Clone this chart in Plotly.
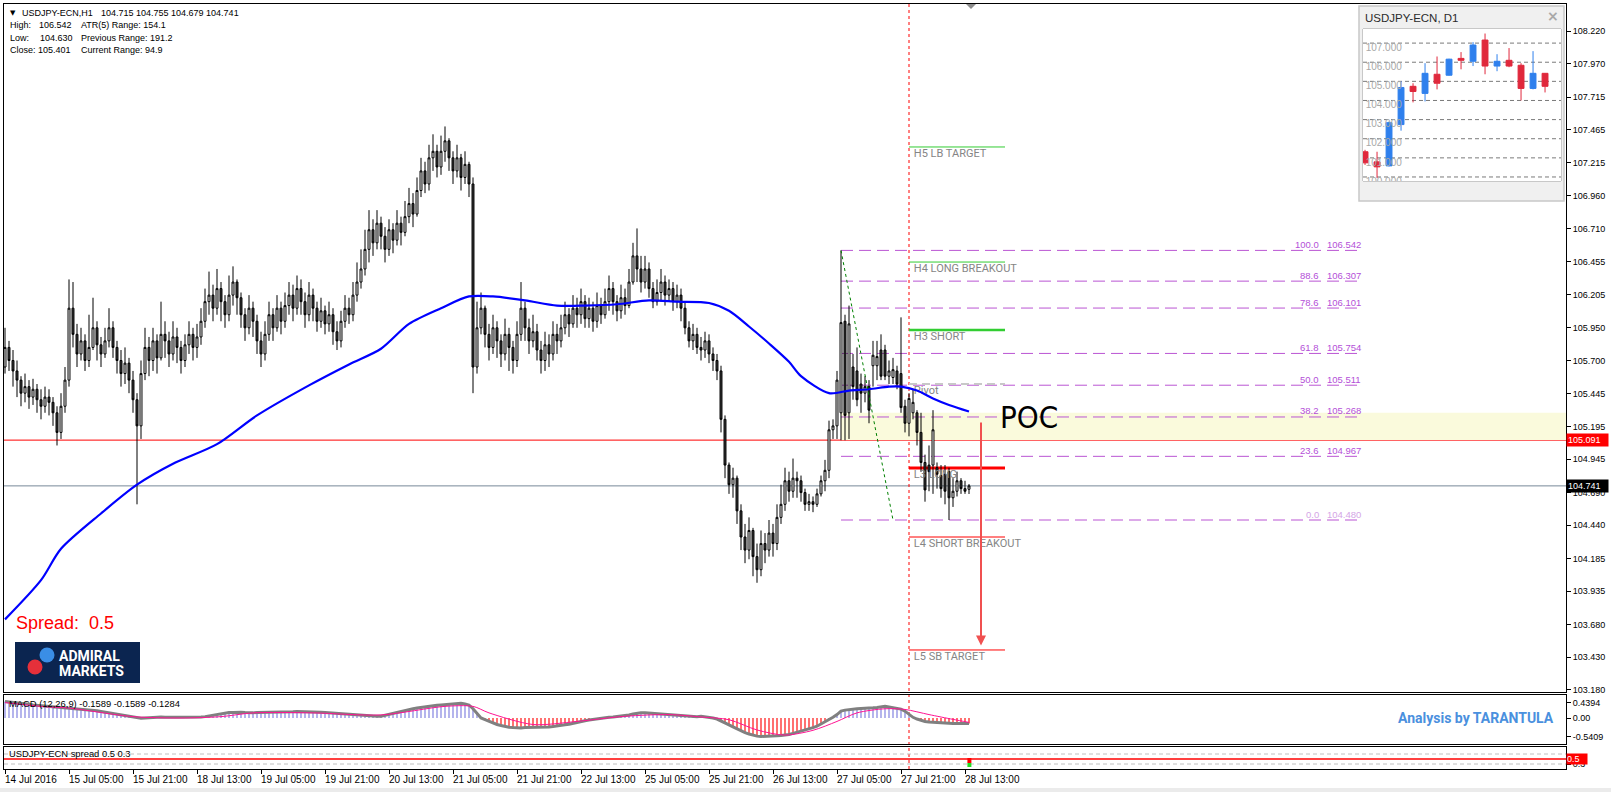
import plotly.graph_objects as go

# ---------------- data ----------------
time_labels = ["14 Jul 2016", "15 Jul 05:00", "15 Jul 21:00", "18 Jul 13:00", "19 Jul 05:00",
               "19 Jul 21:00", "20 Jul 13:00", "21 Jul 05:00", "21 Jul 21:00", "22 Jul 13:00",
               "25 Jul 05:00", "25 Jul 21:00", "26 Jul 13:00", "27 Jul 05:00", "27 Jul 21:00",
               "28 Jul 13:00"]
label_bars = [0, 16, 32, 48, 64, 80, 96, 112, 128, 144, 160, 176, 192, 208, 224, 240]

price_ticks = [108.220, 107.970, 107.715, 107.465, 107.215, 106.960, 106.710, 106.455, 106.205,
               105.950, 105.700, 105.445, 105.195, 104.945, 104.690, 104.440, 104.185, 103.935,
               103.680, 103.430, 103.180]

closes = [105.80, 105.70, 105.62, 105.55, 105.45, 105.50, 105.42, 105.48, 105.40, 105.35, 105.42, 105.38, 105.30, 105.15, 105.35, 105.55,
          106.10, 105.90, 105.75, 105.85, 105.70, 105.80, 105.95, 105.82, 105.75, 105.85, 105.95, 105.80, 105.70, 105.60, 105.68, 105.55,
          105.40, 105.20, 105.60, 105.80, 105.70, 105.85, 105.72, 105.90, 105.85, 105.75, 105.88, 105.80, 105.70, 105.82, 105.90, 105.80,
          105.88, 106.00, 106.15, 106.20, 106.10, 106.25, 106.15, 106.05, 106.20, 106.30, 106.18, 106.05, 105.95, 106.10, 106.00, 105.85,
          105.75, 105.90, 106.05, 105.95, 106.10, 106.00, 106.12, 106.20, 106.10, 106.25, 106.15, 106.05, 106.20, 106.10, 106.00, 106.08,
          105.98, 106.05, 105.92, 105.85, 106.00, 106.10, 106.05, 106.20, 106.30, 106.40, 106.55, 106.70, 106.60, 106.75, 106.65, 106.55,
          106.70, 106.62, 106.75, 106.68, 106.80, 106.90, 106.82, 107.00, 107.15, 107.05, 107.25, 107.30, 107.18, 107.30, 107.38, 107.25,
          107.15, 107.25, 107.10, 107.20, 107.05, 105.65, 105.95, 106.10, 105.90, 105.80, 105.95, 105.85, 105.75, 105.90, 105.80, 105.70,
          105.90, 106.10, 105.95, 105.85, 105.92, 105.78, 105.70, 105.82, 105.75, 105.90, 105.85, 105.95, 106.05, 105.98, 106.10, 106.05,
          106.15, 106.02, 106.10, 106.00, 106.12, 106.05, 106.15, 106.25, 106.15, 106.08, 106.18, 106.12, 106.30, 106.50, 106.40, 106.30,
          106.40, 106.25, 106.15, 106.22, 106.30, 106.20, 106.25, 106.15, 106.20, 106.10, 105.95, 105.85, 105.90, 105.80, 105.78, 105.85,
          105.75, 105.70, 105.62, 105.25, 104.90, 104.75, 104.80, 104.55, 104.35, 104.25, 104.40, 104.20, 104.10, 104.30, 104.25, 104.38,
          104.30, 104.50, 104.60, 104.78, 104.70, 104.80, 104.78, 104.69, 104.60, 104.62, 104.60, 104.68, 104.78, 104.86, 105.17, 105.20,
          105.55, 105.99, 105.28, 105.98, 105.50, 105.40, 105.45, 105.50, 105.32, 105.74, 105.73, 105.58, 105.58, 105.62, 105.63, 105.52,
          105.34, 105.22, 105.41, 105.38, 105.15, 104.92, 104.71, 104.85, 105.17, 104.83, 104.72, 104.70, 104.65, 104.70, 104.78, 104.72,
          104.70, 104.741]

highs = [105.95, 105.85, 105.78, 105.70, 105.58, 105.60, 105.55, 105.56, 105.52, 105.48, 105.50, 105.48, 105.42, 105.35, 105.45, 105.65,
         106.32, 106.30, 105.98, 105.95, 105.90, 106.05, 106.18, 106.00, 105.88, 105.95, 106.10, 106.00, 105.85, 105.78, 105.80, 105.72,
         105.62, 105.45, 105.70, 105.95, 105.88, 105.95, 105.90, 106.15, 106.00, 105.92, 106.00, 105.95, 105.85, 105.90, 106.00, 105.95,
         105.98, 106.10, 106.25, 106.38, 106.28, 106.40, 106.30, 106.20, 106.35, 106.42, 106.32, 106.22, 106.10, 106.20, 106.15, 106.05,
         105.92, 106.00, 106.15, 106.10, 106.20, 106.15, 106.22, 106.30, 106.28, 106.35, 106.32, 106.22, 106.30, 106.25, 106.15, 106.18,
         106.12, 106.15, 106.10, 106.00, 106.08, 106.20, 106.18, 106.30, 106.45, 106.55, 106.70, 106.85, 106.78, 106.85, 106.80, 106.72,
         106.78, 106.75, 106.85, 106.80, 106.92, 107.02, 106.98, 107.10, 107.25, 107.22, 107.35, 107.43, 107.35, 107.42, 107.49, 107.40,
         107.30, 107.35, 107.28, 107.30, 107.22, 107.10, 106.15, 106.22, 106.12, 105.98, 106.05, 106.00, 105.90, 106.02, 105.95, 105.85,
         106.00, 106.30, 106.15, 106.02, 106.05, 105.98, 105.85, 105.92, 105.90, 106.00, 105.98, 106.05, 106.15, 106.10, 106.20, 106.18,
         106.25, 106.20, 106.18, 106.15, 106.22, 106.18, 106.25, 106.35, 106.30, 106.20, 106.28, 106.25, 106.40, 106.60, 106.71, 106.50,
         106.50, 106.45, 106.30, 106.32, 106.40, 106.35, 106.32, 106.30, 106.28, 106.25, 106.15, 106.00, 105.98, 105.95, 105.88, 105.92,
         105.90, 105.80, 105.75, 105.66, 105.28, 104.92, 104.88, 104.82, 104.60, 104.45, 104.50, 104.42, 104.30, 104.40, 104.38, 104.48,
         104.45, 104.60, 104.75, 104.88, 104.85, 104.95, 104.85, 104.82, 104.72, 104.68, 104.66, 104.72, 104.82, 104.94, 105.24, 105.25,
         105.62, 106.54, 106.05, 106.12, 105.75, 105.80, 105.60, 105.58, 105.55, 105.85, 105.85, 105.90, 105.82, 105.70, 105.72, 105.66,
         106.03, 105.40, 105.45, 105.48, 105.32, 105.30, 104.98, 105.05, 105.32, 104.92, 104.90, 104.90, 104.88, 104.80, 104.85, 104.80,
         104.78, 104.755]

lows = [105.60, 105.62, 105.50, 105.42, 105.35, 105.38, 105.33, 105.36, 105.30, 105.25, 105.30, 105.28, 105.20, 105.05, 105.10, 105.30,
        105.50, 105.80, 105.65, 105.70, 105.62, 105.65, 105.78, 105.70, 105.65, 105.72, 105.80, 105.72, 105.60, 105.50, 105.52, 105.45,
        105.30, 104.60, 105.10, 105.55, 105.58, 105.62, 105.60, 105.70, 105.72, 105.65, 105.70, 105.68, 105.60, 105.65, 105.75, 105.70,
        105.72, 105.82, 105.95, 106.05, 106.00, 106.05, 106.00, 105.95, 106.00, 106.12, 106.05, 105.95, 105.85, 105.90, 105.88, 105.75,
        105.65, 105.70, 105.85, 105.85, 105.92, 105.90, 105.95, 106.05, 106.00, 106.05, 106.05, 105.95, 106.00, 106.00, 105.92, 105.95,
        105.90, 105.92, 105.82, 105.78, 105.80, 105.95, 105.98, 106.00, 106.15, 106.25, 106.35, 106.45, 106.50, 106.55, 106.55, 106.45,
        106.50, 106.52, 106.58, 106.58, 106.65, 106.75, 106.72, 106.80, 106.95, 106.98, 107.00, 107.15, 107.10, 107.12, 107.22, 107.15,
        107.05, 107.10, 107.00, 107.05, 106.95, 105.45, 105.60, 105.90, 105.80, 105.70, 105.75, 105.72, 105.65, 105.70, 105.62, 105.60,
        105.65, 105.85, 105.85, 105.75, 105.80, 105.70, 105.60, 105.62, 105.65, 105.70, 105.75, 105.80, 105.90, 105.88, 105.95, 105.95,
        105.98, 105.95, 105.95, 105.92, 105.95, 105.98, 106.02, 106.08, 106.05, 106.00, 106.02, 106.05, 106.10, 106.28, 106.30, 106.22,
        106.25, 106.18, 106.10, 106.12, 106.15, 106.12, 106.15, 106.08, 106.10, 106.00, 105.90, 105.80, 105.78, 105.75, 105.70, 105.72,
        105.68, 105.62, 105.55, 105.15, 104.80, 104.68, 104.65, 104.45, 104.25, 104.15, 104.18, 104.05, 104.00, 104.05, 104.15, 104.20,
        104.20, 104.25, 104.45, 104.55, 104.62, 104.65, 104.65, 104.62, 104.55, 104.55, 104.54, 104.58, 104.66, 104.70, 104.80, 105.10,
        105.10, 105.09, 105.09, 105.10, 105.40, 105.35, 105.30, 105.38, 105.22, 105.50, 105.55, 105.55, 105.55, 105.52, 105.52, 105.48,
        105.30, 105.15, 105.12, 105.25, 105.05, 104.85, 104.62, 104.70, 104.68, 104.72, 104.65, 104.60, 104.48, 104.58, 104.66, 104.68,
        104.68, 104.679]

first_open = 105.65
opens_tail = [105.20, 105.30, 106.00, 105.30, 105.65, 105.62, 105.52, 105.45, 105.50, 105.66, 105.66, 105.78, 105.78, 105.58, 105.57, 105.62,
              105.60, 105.35, 105.22, 105.30, 105.30, 105.15, 104.92, 104.90, 104.90, 104.88, 104.82, 104.83, 104.85, 104.65, 104.70, 104.78,
              104.72, 104.715]
opens = [first_open] + closes[:207] + opens_tail
bars = list(range(len(closes)))

ma_bars = [0, 9, 14, 24, 33, 42, 53, 63, 76, 86, 94, 101, 109, 116, 122, 130, 138, 145, 153, 161,
           168, 176, 181, 186, 191, 196, 199, 206, 211, 216, 221, 224, 228, 232, 236, 241]
ma_vals = [103.72, 104.02, 104.26, 104.53, 104.75, 104.91, 105.06, 105.28, 105.51, 105.67, 105.79, 105.98,
           106.10, 106.19, 106.19, 106.16, 106.12, 106.12, 106.13, 106.16, 106.15, 106.14, 106.08, 105.96,
           105.83, 105.69, 105.58, 105.45, 105.47, 105.48, 105.50, 105.50, 105.47, 105.41, 105.36, 105.31]

macd_main = [0.48, 0.47, 0.46, 0.45, 0.43, 0.42, 0.40, 0.38, 0.37, 0.35,
             0.34, 0.33, 0.32, 0.31, 0.30, 0.29, 0.30, 0.29, 0.27, 0.26,
             0.25, 0.24, 0.23, 0.21, 0.19, 0.17, 0.15, 0.13, 0.11, 0.09,
             0.07, 0.05, 0.03, 0.00, -0.01, 0.00, 0.01, 0.02, 0.02, 0.03,
             0.02, 0.02, 0.03, 0.02, 0.01, 0.01, 0.02, 0.02, 0.02, 0.03,
             0.04, 0.06, 0.08, 0.11, 0.13, 0.15, 0.16, 0.16, 0.17, 0.17,
             0.16, 0.15, 0.15, 0.16, 0.16, 0.17, 0.17, 0.18, 0.18, 0.18,
             0.17, 0.17, 0.18, 0.19, 0.19, 0.19, 0.19, 0.19, 0.18, 0.17,
             0.16, 0.15, 0.14, 0.13, 0.12, 0.11, 0.10, 0.10, 0.10, 0.09,
             0.08, 0.07, 0.06, 0.05, 0.05, 0.08, 0.11, 0.14, 0.17, 0.20,
             0.22, 0.25, 0.27, 0.29, 0.31, 0.33, 0.35, 0.36, 0.37, 0.38,
             0.39, 0.41, 0.43, 0.44, 0.43, 0.41, 0.38, 0.27, 0.12, 0.00,
             -0.05, -0.10, -0.15, -0.19, -0.22, -0.25, -0.27, -0.28, -0.29, -0.29,
             -0.28, -0.28, -0.27, -0.27, -0.26, -0.26, -0.26, -0.25, -0.24, -0.22,
             -0.20, -0.18, -0.15, -0.12, -0.10, -0.08, -0.06, -0.04, -0.02, 0.00,
             0.01, 0.02, 0.03, 0.04, 0.05, 0.07, 0.09, 0.12, 0.14, 0.15,
             0.15, 0.14, 0.13, 0.12, 0.12, 0.11, 0.10, 0.09, 0.08, 0.07,
             0.06, 0.05, 0.05, 0.04, 0.05, 0.04, 0.02, 0.00, -0.03, -0.08,
             -0.14, -0.20, -0.26, -0.32, -0.38, -0.43, -0.47, -0.51, -0.53, -0.54,
             -0.54, -0.54, -0.53, -0.52, -0.51, -0.50, -0.48, -0.45, -0.42, -0.39,
             -0.36, -0.32, -0.28, -0.24, -0.18, -0.12, -0.05, 0.02, 0.10, 0.20,
             0.23, 0.25, 0.26, 0.27, 0.28, 0.28, 0.29, 0.30, 0.31, 0.33,
             0.34, 0.32, 0.30, 0.28, 0.26, 0.20, 0.10, 0.02, -0.03, -0.07,
             -0.10, -0.12, -0.13, -0.14, -0.15, -0.15, -0.16, -0.16, -0.16, -0.16,
             -0.16, -0.1589]
signal_bars = [0, 10, 16, 32, 44, 54, 62, 77, 94, 110, 117, 121, 132, 143, 155, 166, 174, 181,
               188, 195, 202, 208, 213, 220, 225, 231, 237, 241]
signal_vals = [0.45, 0.33, 0.29, 0.04, 0.00, 0.04, 0.15, 0.15, 0.09, 0.34, 0.34, 0.15, -0.19, -0.10,
               0.05, 0.10, 0.03, -0.05, -0.35, -0.50, -0.36, -0.10, 0.15, 0.27, 0.25, 0.10, -0.04, -0.1284]

fib_pcts = ["100.0", "88.6", "78.6", "61.8", "50.0", "38.2", "23.6", "0.0"]
fib_levels = [106.542, 106.307, 106.101, 105.754, 105.511, 105.268, 104.967, 104.480]
fib_start_bar, fib_end_bar = 209, 338.25

pivot_names = ["H5 LB TARGET", "H4 LONG BREAKOUT", "H3 SHORT", "Pivot", "L3 LONG", "L4 SHORT BREAKOUT", "L5 SB TARGET"]
pivot_levels = [107.333, 106.453, 105.933, 105.520, 104.878, 104.350, 103.486]
pivot_start_bar, pivot_end_bar = 226, 250

poc_low, poc_high, poc_start_bar = 105.091, 105.300, 209
red_level = 105.091
last_price = 104.741
session_bar = 226
trend_bars = [209, 222]
trend_vals = [106.542, 104.480]
arrow_bar, arrow_from, arrow_to = 244, 105.237, 103.52

# D1 inset
d1_open = [101.32, 100.79, 100.58, 102.74, 104.74, 104.37, 105.37, 105.32, 106.20, 106.05, 107.16, 105.80, 106.10, 105.84, 104.63, 105.42]
d1_high = [101.42, 101.32, 102.90, 105.00, 104.90, 105.95, 106.30, 106.18, 106.53, 107.05, 107.50, 106.42, 106.74, 105.95, 106.58, 105.42]
d1_low = [100.63, 99.95, 100.55, 102.42, 103.90, 103.95, 104.58, 105.30, 105.63, 105.80, 105.37, 105.53, 105.74, 104.00, 104.58, 104.42]
d1_close = [100.74, 100.53, 102.84, 104.68, 104.47, 105.42, 104.90, 106.16, 106.10, 106.90, 105.80, 106.05, 105.80, 104.63, 105.42, 104.74]
d1_ticks = [107, 106, 105, 104, 103, 102, 101, 100]
d1_tick_text = ["107.000", "106.000", "105.000", "104.000", "103.000", "102.000", "101.000", "100.000"]

# ---------------- geometry helpers ----------------
W, H = 1611, 792
ML, MR, MT, MB = 4, 45, 4, 23
PW, PH = W - ML - MR, H - MT - MB


def X(p):
    return (p - ML) / PW


def Y(p):
    return (H - MB - p) / PH


FONT = "Liberation Sans, Arial, sans-serif"
ROBOTO = "Roboto, Liberation Sans, sans-serif"

fig = go.Figure()

# pivot labels (below candles)
fig.add_trace(go.Scatter(x=[pivot_start_bar + 1.2] * len(pivot_names), y=[v - 0.054 for v in pivot_levels],
                         text=pivot_names, mode="text", textposition="middle right",
                         textfont=dict(family=ROBOTO, size=11, color="#858585"),
                         hoverinfo="skip", xaxis="x", yaxis="y"))

fig.add_trace(go.Candlestick(x=bars, open=opens, high=highs, low=lows, close=closes,
                             increasing=dict(line=dict(color="black", width=1), fillcolor="white"),
                             decreasing=dict(line=dict(color="black", width=1), fillcolor="#3a3a3a"),
                             whiskerwidth=0, xaxis="x", yaxis="y", hoverinfo="skip"))

fig.add_trace(go.Scatter(x=ma_bars, y=ma_vals, mode="lines", line=dict(color="#0000FF", width=2.2, shape="spline", smoothing=0.8),
                         xaxis="x", yaxis="y", hoverinfo="skip"))

fig.add_trace(go.Scatter(x=trend_bars, y=trend_vals, mode="lines", line=dict(color="#008000", width=1, dash="dot"),
                         xaxis="x", yaxis="y", hoverinfo="skip"))

# MACD
fig.add_trace(go.Bar(x=bars, y=macd_main, width=0.28,
                     marker=dict(color=["#7A7ADE" if v >= 0 else "#FF0000" for v in macd_main], line=dict(width=0)),
                     xaxis="x2", yaxis="y2", hoverinfo="skip"))
fig.add_trace(go.Scatter(x=bars, y=macd_main, mode="lines", line=dict(color="#808080", width=3),
                         xaxis="x2", yaxis="y2", hoverinfo="skip"))
fig.add_trace(go.Scatter(x=signal_bars, y=signal_vals, mode="lines",
                         line=dict(color="#FF1493", width=1, shape="spline", smoothing=0.8),
                         xaxis="x2", yaxis="y2", hoverinfo="skip"))

# spread panel (invisible trace to create axes)
fig.add_trace(go.Scatter(x=[0], y=[0.5], mode="markers", marker=dict(size=1, color="rgba(0,0,0,0)"),
                         xaxis="x3", yaxis="y3", hoverinfo="skip"))

# D1 inset
fig.add_trace(go.Scatter(x=[0.05] * len(d1_ticks), y=[v - 0.27 for v in d1_ticks], text=d1_tick_text,
                         mode="text", textposition="middle right",
                         textfont=dict(family=FONT, size=10, color="#A8A8A8"),
                         xaxis="x4", yaxis="y4", hoverinfo="skip"))
fig.add_trace(go.Candlestick(x=list(range(len(d1_open))), open=d1_open, high=d1_high, low=d1_low, close=d1_close,
                             increasing=dict(line=dict(color="#2F80ED", width=1), fillcolor="#2F80ED"),
                             decreasing=dict(line=dict(color="#E0283C", width=1), fillcolor="#E0283C"),
                             whiskerwidth=0, xaxis="x4", yaxis="y4", hoverinfo="skip"))

# ---------------- shapes ----------------
shapes = []
# inset frame
shapes.append(dict(type="rect", xref="paper", yref="paper", x0=X(1359), x1=X(1564), y0=Y(201), y1=Y(6),
                   fillcolor="#F0F0F0", line=dict(color="#C8C8C8", width=1.5), layer="below"))
shapes.append(dict(type="rect", xref="paper", yref="paper", x0=X(1363), x1=X(1561), y0=Y(181), y1=Y(29),
                   fillcolor="white", line=dict(color="#A0A0A0", width=1), layer="below"))
for v in d1_ticks:
    shapes.append(dict(type="line", xref="x4", yref="y4", x0=-0.17, x1=16.33, y0=v, y1=v,
                       line=dict(color="#7A7A7A", width=1, dash="4px,3px"), layer="below"))
for k in [2, 7, 12]:
    shapes.append(dict(type="line", xref="x4", yref="paper", x0=k, x1=k, y0=Y(181), y1=Y(29),
                       line=dict(color="#7A7A7A", width=1, dash="4px,3px"), layer="below"))

# POC zone
shapes.append(dict(type="rect", xref="x", yref="y", x0=poc_start_bar, x1=390.25, y0=poc_low, y1=poc_high,
                   fillcolor="#FAFADC", line=dict(width=0), layer="below"))
# fib lines
for lv in fib_levels:
    shapes.append(dict(type="line", xref="x", yref="y", x0=fib_start_bar, x1=fib_end_bar, y0=lv, y1=lv,
                       line=dict(color="#BA55D3", width=1, dash="12px,6px"), layer="below"))
# horizontal levels
shapes.append(dict(type="line", xref="x domain", yref="y", x0=0, x1=1, y0=red_level, y1=red_level,
                   line=dict(color="#FF0000", width=1), layer="below"))
shapes.append(dict(type="line", xref="x domain", yref="y", x0=0, x1=1, y0=last_price, y1=last_price,
                   line=dict(color="#778899", width=1), layer="below"))
# pivot lines
pivot_style = [("#32CD32", 1, "solid"), ("#32CD32", 1, "solid"), ("#32CD32", 2.5, "solid"),
               ("#C8C8C8", 2, "8px,5px"), ("#FF0000", 3, "solid"), ("#FF0000", 1, "solid"), ("#FF0000", 1, "solid")]
for lv, (c, w, d) in zip(pivot_levels, pivot_style):
    shapes.append(dict(type="line", xref="x", yref="y", x0=pivot_start_bar, x1=pivot_end_bar, y0=lv, y1=lv,
                       line=dict(color=c, width=w, dash=d), layer="below"))
# session separator
shapes.append(dict(type="line", xref="x", yref="paper", x0=session_bar, x1=session_bar, y0=0, y1=1,
                   line=dict(color="#FF0000", width=1, dash="3px,3px"), layer="below"))
# spread panel lines
for v, c, d in [(0.7, "#C0C0C0", "4px,3px"), (0.3, "#C0C0C0", "4px,3px"), (0.5, "#FF0000", "solid")]:
    shapes.append(dict(type="line", xref="x3 domain", yref="y3", x0=0, x1=1, y0=v, y1=v,
                       line=dict(color=c, width=1.5 if c == "#FF0000" else 1, dash=d), layer="below"))
shapes.append(dict(type="rect", xref="x3", yref="paper", x0=240.6, x1=241.6, y0=Y(763), y1=Y(758),
                   fillcolor="#FF0000", line=dict(width=0)))
shapes.append(dict(type="rect", xref="x3", yref="paper", x0=240.6, x1=241.6, y0=Y(767), y1=Y(763),
                   fillcolor="#22DD22", line=dict(width=0)))
# shift marker
shapes.append(dict(type="path", xref="paper", yref="paper",
                   path=f"M {X(966)},{Y(4)} L {X(976)},{Y(4)} L {X(971)},{Y(9)} Z",
                   fillcolor="#8C8C8C", line=dict(width=0)))
# logo
shapes.append(dict(type="rect", xref="paper", yref="paper", x0=X(15), x1=X(140), y0=Y(683), y1=Y(642),
                   fillcolor="#0B2550", line=dict(width=0)))
shapes.append(dict(type="circle", xref="paper", yref="paper", x0=X(39.5), x1=X(54.5), y0=Y(662.5), y1=Y(647.5),
                   fillcolor="#3A8EE6", line=dict(width=0)))
shapes.append(dict(type="circle", xref="paper", yref="paper", x0=X(27.5), x1=X(42.5), y0=Y(674.5), y1=Y(659.5),
                   fillcolor="#E5303A", line=dict(width=0)))
# window bottom strip
shapes.append(dict(type="rect", xref="paper", yref="paper", x0=X(0), x1=X(1611), y0=Y(792), y1=Y(788),
                   fillcolor="#EBEBEB", line=dict(width=0)))

# ---------------- annotations ----------------
ann = []


def txt(s, x, y, size=9, color="#000000", xanchor="left", yanchor="middle", family=FONT,
        xref="paper", yref="paper", **kw):
    ann.append(dict(text=s, x=x, y=y, xref=xref, yref=yref, xanchor=xanchor, yanchor=yanchor,
                    showarrow=False, font=dict(family=family, size=size, color=color), **kw))


# header
txt("▼", X(8), Y(12.7), size=7, family="DejaVu Sans")
txt("USDJPY-ECN,H1", X(20), Y(12.7))
txt("104.715 104.755 104.679 104.741", X(99), Y(12.7))
txt("High:", X(8), Y(25.3))
txt("106.542", X(37), Y(25.3))
txt("ATR(5) Range: 154.1", X(79), Y(25.3))
txt("Low:", X(8), Y(37.6))
txt("104.630", X(38), Y(37.6))
txt("Previous Range: 191.2", X(79), Y(37.6))
txt("Close:", X(8), Y(50))
txt("105.401", X(36), Y(50))
txt("Current Range: 94.9", X(79), Y(50))

# fib labels
for p, lv in zip(fib_pcts, fib_levels):
    col = "#D4A6E6" if p == "0.0" else "#B44FD8"
    txt(p, X(1321), lv, size=9.5, color=col, xanchor="right", yref="y", yshift=6)
    txt(f"{lv:.3f}", X(1325), lv, size=9.5, color=col, xanchor="left", yref="y", yshift=6)

# POC
txt("POC", X(998), Y(417), size=31, color="#000000", family="DejaVu Sans Condensed, DejaVu Sans")

# arrow
ann.append(dict(x=arrow_bar, y=arrow_to, ax=arrow_bar, ay=arrow_from, xref="x", yref="y", axref="x", ayref="y",
                showarrow=True, arrowhead=2, arrowsize=1, arrowwidth=2, arrowcolor="#F05050", text=""))

# spread text
txt("Spread:  0.5", X(14), Y(623), size=18, color="#FF0000")
# logo text
txt("<b>ADMIRAL</b>", X(57), Y(656), size=14, color="white", family=ROBOTO)
txt("<b>MARKETS</b>", X(57), Y(671), size=14, color="white", family=ROBOTO)

# sub-panel labels
txt("MACD (12,26,9) -0.1589 -0.1589 -0.1284", X(7), Y(703), size=9.4)
txt("<b>Analysis by TARANTULA</b>", X(1396), Y(718), size=14, color="#4A90DE", family=ROBOTO)
txt("USDJPY-ECN spread 0.5 0.3", X(7), Y(753), size=9.4)

# price labels on the axis
txt("105.091", X(1566), red_level, size=9, color="white", yref="y", bgcolor="#FF0000", width=39, align="left", borderpad=1)
txt("104.741", X(1566), last_price, size=9, color="white", yref="y", bgcolor="#000000", width=39, align="left", borderpad=1)
txt("0.5", X(1566), 0.5, size=9, color="white", yref="y3", bgcolor="#FF0000", width=20, align="left", borderpad=0)

# time labels
for b, s in zip(label_bars, time_labels):
    txt(s, b, Y(779), size=10, xref="x3", xshift=-2)

# inset title
txt("USDJPY-ECN, D1", X(1363), Y(18), size=11.5, color="#2B2B2B")
txt("<b>×</b>", X(1553), Y(16), size=14, color="#A8A8A8", xanchor="center", family="DejaVu Sans")

# ---------------- layout ----------------
axis_common = dict(showgrid=False, zeroline=False, showline=True, linecolor="black", linewidth=1, mirror=True)
X_RANGE = [-0.25, 390.25]

fig.update_layout(
    width=W, height=H, autosize=False,
    margin=dict(l=ML, r=MR, t=MT, b=MB, pad=0),
    paper_bgcolor="white", plot_bgcolor="white",
    showlegend=False, hovermode=False,
    font=dict(family=FONT, size=9, color="black"),
    xaxis=dict(domain=[0, 1], anchor="y", range=X_RANGE, showticklabels=False, ticks="",
               rangeslider=dict(visible=False), **axis_common),
    yaxis=dict(domain=[Y(692), 1], anchor="x", side="right", range=[103.1646, 108.4265],
               tickvals=price_ticks, ticktext=[f"{v:.3f}" for v in price_ticks],
               ticks="outside", ticklen=4, tickcolor="black", tickfont=dict(family=FONT, size=9), **axis_common),
    xaxis2=dict(domain=[0, 1], anchor="y2", range=X_RANGE, showticklabels=False, ticks="", **axis_common),
    yaxis2=dict(domain=[Y(744), Y(695)], anchor="x2", side="right", range=[-0.7602, 0.6725],
                tickvals=[0.4394, 0.0, -0.5409], ticktext=["0.4394", "0.00", "-0.5409"],
                ticks="outside", ticklen=4, tickcolor="black", tickfont=dict(family=FONT, size=9), **axis_common),
    xaxis3=dict(domain=[0, 1], anchor="y3", range=X_RANGE, showticklabels=False, tickvals=label_bars,
                ticks="outside", ticklen=4, tickcolor="black", **axis_common),
    yaxis3=dict(domain=[0, Y(747)], anchor="x3", side="right", range=[0.1, 0.98],
                tickvals=[0.3], ticktext=["0.3"], ticks="outside", ticklen=4, tickcolor="black",
                tickfont=dict(family=FONT, size=9), **axis_common),
    xaxis4=dict(domain=[X(1363), X(1561)], anchor="y4", range=[-0.17, 16.33], visible=False,
                rangeslider=dict(visible=False)),
    yaxis4=dict(domain=[Y(181), Y(29)], anchor="x4", range=[99.79, 107.737], visible=False),
    shapes=shapes,
    annotations=ann,
)

fig.write_html("out.html", config={"displayModeBar": False, "staticPlot": True},
               post_script="document.body.style.margin='0px';document.body.style.overflow='hidden';")
